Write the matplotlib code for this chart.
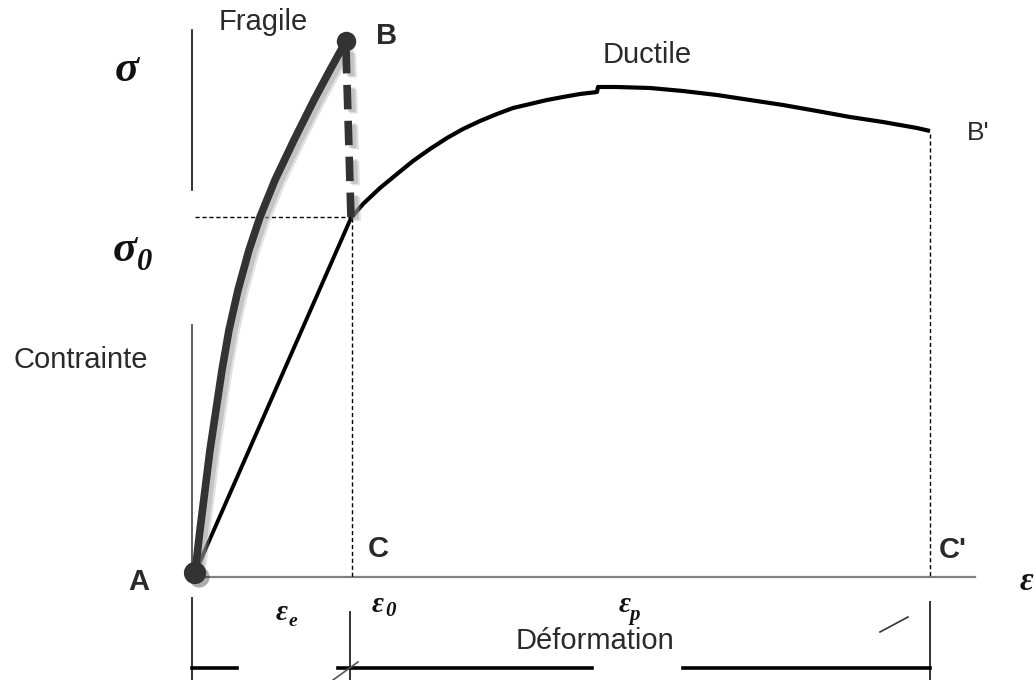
import matplotlib
matplotlib.use("Agg")
import matplotlib.pyplot as plt
import matplotlib.patheffects as pe

# diagram coordinates (pixel-like units, y downwards)
origin = (195, 573)
pt_B = (346, 41)
pt_yield = (351, 218)
pt_Bp = (930, 130)

fragile_x = [195, 200, 205, 210, 216, 222, 229, 238, 249, 260, 275, 294, 314, 330, 346]
fragile_y = [573, 530, 490, 450, 410, 370, 330, 290, 250, 217, 180, 140, 100, 70, 41]

elastic_x = [195, 351]
elastic_y = [573, 218]

ductile_x = [351, 363, 380, 397, 413, 430, 447, 463, 480, 497, 513, 530, 547, 563, 580, 597,
             598, 617, 650, 683, 717, 750, 783, 817, 850, 883, 917, 930]
ductile_y = [218, 204, 188, 174, 161, 149, 138, 129, 121, 114, 108, 104, 100, 97, 94, 92,
             87, 87, 88, 91, 95, 100, 105, 111, 117, 122, 128, 131]

axis_y = 577
axis_x_end = 975

fig = plt.figure(figsize=(10.35, 6.8), dpi=100)
ax = fig.add_axes([0, 0, 1, 1])
ax.set_xlim(0, 1035)
ax.set_ylim(680, 0)
ax.axis("off")

# axes of the diagram
ax.plot([origin[0], axis_x_end], [axis_y, axis_y], color="#808080", lw=1.6, zorder=1)
ax.plot([192, 192], [30, 190], color="#111111", lw=1.2)
ax.plot([192, 192], [325, 570], color="#444444", lw=1.2)

# guides
ax.plot([195, pt_yield[0]], [217, 217], color="black", lw=1, ls=(0, (3, 2)))
ax.plot([352, 352], [pt_yield[1], axis_y], color="black", lw=1, ls=(0, (3, 2)))
ax.plot([pt_Bp[0], pt_Bp[0]], [pt_Bp[1] + 4, axis_y], color="black", lw=1, ls=(0, (3, 2)))

shadow = [pe.SimpleLineShadow(offset=(4.5, -3), shadow_color="#aaaaaa", alpha=0.35),
          pe.SimpleLineShadow(offset=(3, -2), shadow_color="#999999", alpha=0.4),
          pe.Normal()]

# ductile curve
ax.plot(elastic_x, elastic_y, color="black", lw=2.8, solid_capstyle="round", zorder=3)
ax.plot(ductile_x, ductile_y, color="black", lw=3.0, solid_capstyle="butt",
        solid_joinstyle="round", zorder=3)

# fragile curve
ax.plot(fragile_x, fragile_y, color="#333333", lw=5.5, solid_capstyle="round",
        solid_joinstyle="round", zorder=4, path_effects=shadow)
ax.plot([pt_B[0], pt_yield[0]], [pt_B[1] + 8, pt_yield[1]], color="#333333", lw=5.5,
        ls=(0, (3.2, 1.5)), zorder=4, path_effects=shadow)
ax.plot(*pt_B, "o", color="#333333", ms=13, zorder=5)
ax.plot(*origin, "o", color="#333333", ms=15, zorder=5,
        path_effects=[pe.SimplePatchShadow(offset=(3, -3), alpha=0.35), pe.Normal()])

# dimension lines below the axis
for x, y0 in [(192, 598), (350, 612), (930, 602)]:
    ax.plot([x, x], [y0, 680], color="#333333", lw=1.4)
for x0, x1 in [(192, 237), (338, 592), (683, 930)]:
    ax.plot([x0, x1], [668, 668], color="black", lw=2.6)
ax.plot([333, 358], [680, 662], color="#555555", lw=1.2)
ax.plot([880, 908], [632, 617], color="#333333", lw=1.2)

sans = ["Liberation Sans", "DejaVu Sans"]
serif = ["Liberation Serif", "DejaVu Serif"]
txt = dict(color="#2a2a2a", family=sans, va="center", ha="center")

ax.text(263, 22, "Fragile", fontsize=21, **txt)
ax.text(387, 36, "B", fontsize=21, weight="bold", **txt)
ax.text(647, 55, "Ductile", fontsize=21, **txt)
ax.text(978, 133, "B'", fontsize=19, **txt)
ax.text(81, 360, "Contrainte", fontsize=21, **txt)
ax.text(139, 582, "A", fontsize=21, weight="bold", **txt)
ax.text(378, 549, "C", fontsize=21, weight="bold", **txt)
ax.text(953, 550, "C'", fontsize=21, weight="bold", **txt)
ax.text(595, 641, "Déformation", fontsize=21, **txt)

sym = dict(color="#111111", family=serif, style="italic", weight="bold", va="center", ha="center")
ax.text(127, 70, "σ", fontsize=32, **sym)
ax.text(125, 250, "σ", fontsize=32, **sym)
ax.text(145, 263, "0", fontsize=22, **sym)
ax.text(1026, 582, "ε", fontsize=24, **sym)
ax.text(282, 613, "ε", fontsize=21, **sym)
ax.text(293, 621, "e", fontsize=14, **sym)
ax.text(378, 605, "ε", fontsize=21, **sym)
ax.text(391, 611, "0", fontsize=15, **sym)
ax.text(625, 605, "ε", fontsize=21, **sym)
ax.text(635, 615, "p", fontsize=15, **sym)

fig.savefig("out.png", dpi=100)
